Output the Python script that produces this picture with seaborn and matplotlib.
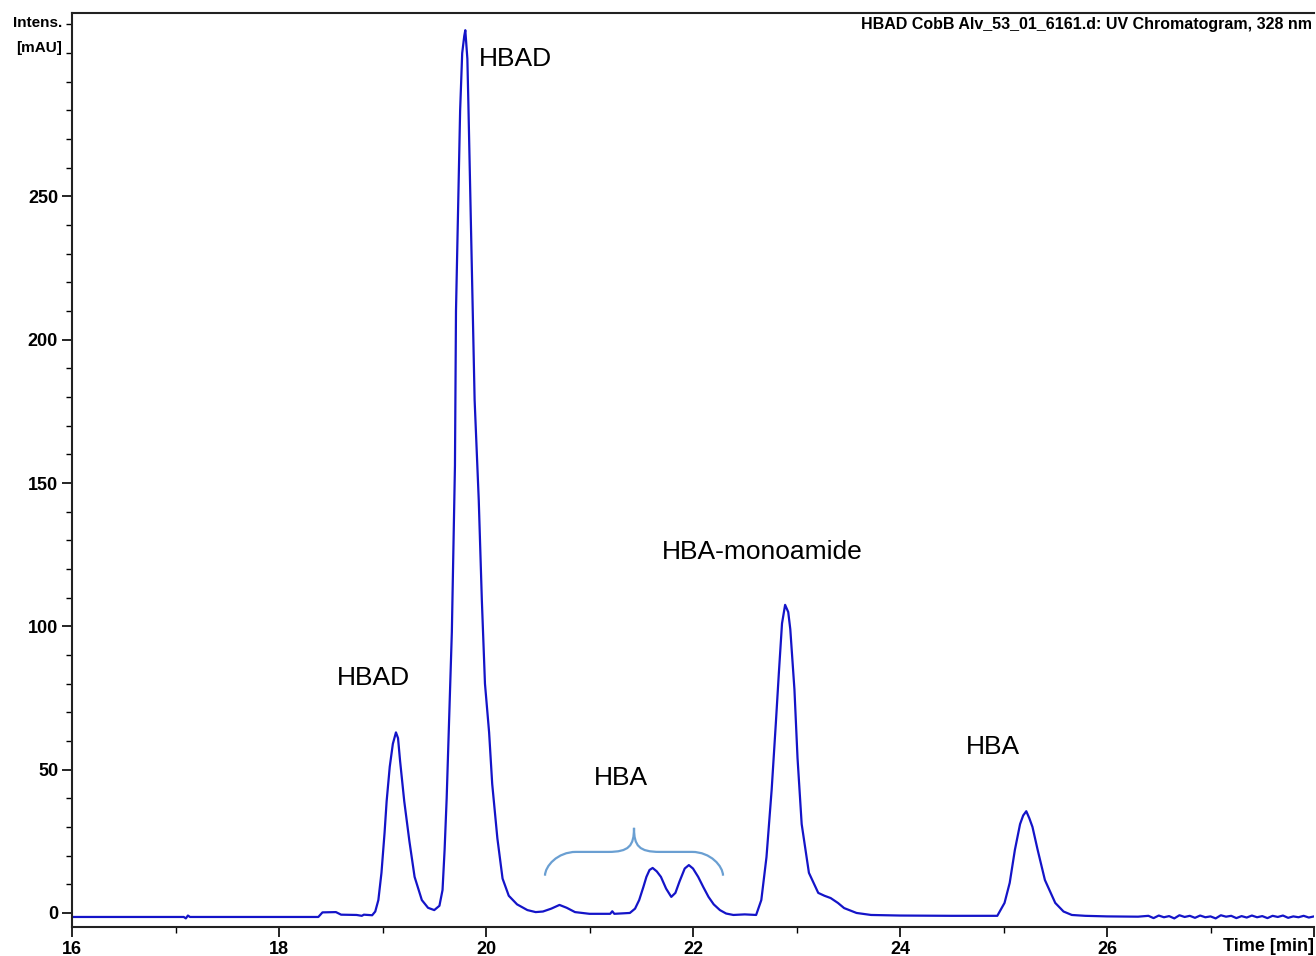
"""UV chromatogram (328 nm) of the HBAD CobB sample, redrawn with seaborn."""
import matplotlib
matplotlib.use("Agg")
import matplotlib.pyplot as plt
import matplotlib.ticker as mticker
from matplotlib.path import Path
from matplotlib.patches import PathPatch
import seaborn as sns
import pandas as pd

sns.set_theme(style="ticks")
plt.rcParams["font.family"] = ["Liberation Sans", "DejaVu Sans"]
NARROW = ["Liberation Sans Narrow", "Liberation Sans", "DejaVu Sans"]

TRACE = "#1414c8"
BRACE = "#6a9fd2"

# retention time (min) and intensity (mAU)
time_min = [
    16.00, 17.08, 17.10, 17.12, 17.14, 18.38, 18.42, 18.55, 18.60, 18.75,
    18.80, 18.82, 18.90, 18.93, 18.96, 18.99, 19.02, 19.04, 19.07, 19.10,
    19.13, 19.15, 19.17, 19.21, 19.26, 19.31, 19.38, 19.44, 19.50, 19.55,
    19.58, 19.60, 19.62, 19.64, 19.67, 19.70, 19.71, 19.73, 19.75, 19.77,
    19.79, 19.80, 19.82, 19.83, 19.85, 19.87, 19.89, 19.93, 19.96, 19.99,
    20.03, 20.06, 20.11, 20.16, 20.22, 20.30, 20.40, 20.48, 20.55, 20.63,
    20.71, 20.78, 20.86, 21.00, 21.20, 21.22, 21.24, 21.39, 21.44, 21.48,
    21.52, 21.55, 21.58, 21.61, 21.65, 21.69, 21.74, 21.79, 21.83, 21.87,
    21.92, 21.96, 22.00, 22.05, 22.10, 22.15, 22.20, 22.26, 22.32, 22.39,
    22.50, 22.61, 22.66, 22.71, 22.76, 22.80, 22.83, 22.86, 22.89, 22.92,
    22.94, 22.98, 23.01, 23.05, 23.12, 23.21, 23.27, 23.33, 23.40, 23.46,
    23.58, 23.72, 24.00, 24.50, 24.94, 25.01, 25.06, 25.11, 25.16, 25.19,
    25.22, 25.25, 25.28, 25.33, 25.40, 25.50, 25.58, 25.66, 25.79, 26.00,
    26.30, 26.40, 26.45, 26.50, 26.55, 26.60, 26.65, 26.70, 26.75, 26.80,
    26.85, 26.90, 26.95, 27.00, 27.05, 27.10, 27.15, 27.20, 27.25, 27.30,
    27.35, 27.40, 27.45, 27.50, 27.55, 27.60, 27.65, 27.70, 27.75, 27.80,
    27.85, 27.90, 27.95, 28.00,
]
intensity = [
    -1.4, -1.4, -1.9, -0.9, -1.4, -1.4, 0.2, 0.3, -0.6, -0.7,
    -1.0, -0.6, -0.8, 0.5, 4.5, 14.0, 28.0, 39.0, 51.0, 59.0,
    63.0, 61.0, 53.0, 39.0, 25.0, 12.6, 4.5, 1.8, 1.0, 2.5,
    8.0, 22.0, 40.0, 63.0, 98.0, 156.0, 210.0, 245.0, 280.0, 300.0,
    306.0, 308.0, 298.0, 282.0, 248.0, 214.0, 179.0, 144.0, 109.0, 80.0,
    63.0, 45.0, 26.0, 12.0, 6.0, 3.0, 1.0, 0.3, 0.5, 1.5,
    2.8, 1.8, 0.3, -0.3, -0.3, 0.6, -0.3, 0.0, 1.5, 4.5,
    9.0, 12.6, 15.0, 15.7, 14.5, 12.6, 8.5, 5.6, 7.0, 11.0,
    15.5, 16.7, 15.5, 12.6, 9.0, 5.6, 3.0, 1.0, -0.2, -0.7,
    -0.5, -0.7, 4.5, 19.5, 43.0, 66.0, 84.0, 101.0, 107.5, 105.0,
    99.0, 78.0, 54.0, 31.0, 14.0, 7.0, 6.0, 5.2, 3.5, 1.7,
    0.0, -0.7, -0.9, -1.0, -1.0, 3.5, 10.5, 22.0, 31.0, 34.0,
    35.5, 33.0, 30.0, 22.0, 11.5, 3.5, 0.5, -0.7, -1.0, -1.2,
    -1.3, -1.0, -1.8, -0.9, -1.5, -1.1, -1.9, -0.8, -1.4, -1.0,
    -1.7, -0.9, -1.5, -1.2, -1.9, -0.8, -1.3, -1.0, -1.8, -1.1,
    -1.6, -0.9, -1.5, -1.1, -1.8, -1.0, -1.4, -0.9, -1.7, -1.2,
    -1.5, -1.0, -1.6, -1.2,
]

# peak labels: text, retention time, intensity, alignment
peak_names = ["HBAD", "HBAD", "HBA", "HBA-monoamide", "HBA"]
label_time = [19.93, 18.56, 21.30, 22.67, 24.90]
label_int = [298, 82, 47, 126, 58]
label_ha = ["left", "left", "center", "center", "center"]

# curly brace over the two HBA peaks
brace_t = [20.57, 21.43, 22.29]
brace_int = [13.0, 21.3, 29.7]

x_major = [16, 18, 20, 22, 24, 26, 28]
x_labels = ["16", "18", "20", "22", "24", "26", ""]
y_major = [0, 50, 100, 150, 200, 250]

fig = plt.figure(figsize=(13.16, 9.56), dpi=100)
ax = fig.add_axes([72 / 1316, 1 - 927 / 956, 1242 / 1316, 914 / 956])

df = pd.DataFrame({"time": time_min, "mAU": intensity})
sns.lineplot(data=df, x="time", y="mAU", color=TRACE, linewidth=1.6, ax=ax)

ax.set_xlim(16, 28)
ax.set_ylim(-4.9, 314)
ax.set_xlabel("")
ax.set_ylabel("")

ax.xaxis.set_major_locator(mticker.FixedLocator(x_major))
ax.xaxis.set_major_formatter(mticker.FixedFormatter(x_labels))
ax.xaxis.set_minor_locator(mticker.MultipleLocator(1))
ax.yaxis.set_major_locator(mticker.FixedLocator(y_major))
ax.yaxis.set_minor_locator(mticker.MultipleLocator(10))
ax.tick_params(which="major", length=7, width=1.2, color="black",
               labelcolor="black", labelsize=13, pad=3)
ax.tick_params(which="minor", length=4, width=1.0, color="black")
for lab in ax.get_xticklabels() + ax.get_yticklabels():
    lab.set_fontweight("bold")
    lab.set_family(NARROW)

for side in ["left", "bottom", "top"]:
    ax.spines[side].set_linewidth(1.5)
    ax.spines[side].set_color("#222222")
ax.spines["right"].set_visible(False)

# axis captions in the instrument's style
ax.text(-0.008, 0.989, "Intens.", transform=ax.transAxes, ha="right", va="center",
        fontsize=11, fontweight="bold", family=NARROW, color="black")
ax.text(-0.008, 0.962, "[mAU]", transform=ax.transAxes, ha="right", va="center",
        fontsize=11, fontweight="bold", family=NARROW, color="black")
ax.text(28, -0.012, "Time [min]", transform=ax.get_xaxis_transform(), ha="right",
        va="top", fontsize=13, fontweight="bold", family=NARROW, color="black")
fig.text(1312 / 1316, 1 - 25 / 956, "HBAD CobB Alv_53_01_6161.d: UV Chromatogram, 328 nm",
         ha="right", va="center", fontsize=11.5, fontweight="bold", family=NARROW,
         color="black")

for name, t, y, ha in zip(peak_names, label_time, label_int, label_ha):
    ax.text(t, y, name, ha=ha, va="center", fontsize=19, color="black")

# brace drawn as bezier path
l, m, r = brace_t
lo, flat, tip = brace_int
verts = [
    (l, lo), (l, flat - 5), (l + 0.12, flat), (l + 0.30, flat),
    (m - 0.25, flat),
    (m - 0.05, flat), (m, flat + 2), (m, tip),
    (m, flat + 2), (m + 0.05, flat), (m + 0.25, flat),
    (r - 0.30, flat),
    (r - 0.12, flat), (r, flat - 5), (r, lo),
]
codes = [Path.MOVETO, Path.CURVE4, Path.CURVE4, Path.CURVE4,
         Path.LINETO,
         Path.CURVE4, Path.CURVE4, Path.CURVE4,
         Path.CURVE4, Path.CURVE4, Path.CURVE4,
         Path.LINETO,
         Path.CURVE4, Path.CURVE4, Path.CURVE4]
ax.add_patch(PathPatch(Path(verts, codes), facecolor="none", edgecolor=BRACE, linewidth=1.6))

fig.savefig("out.png", dpi=100)
